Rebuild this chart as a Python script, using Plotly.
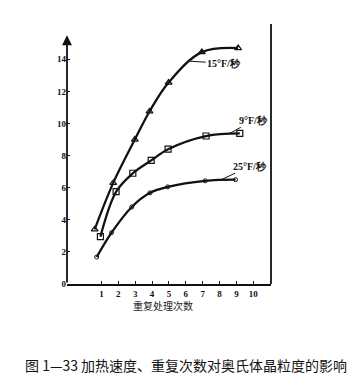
import plotly.graph_objects as go

# Data
x15 = [0.6, 1.7, 2.98, 3.85, 4.98, 6.95, 9.1]
y15 = [3.4, 6.3, 9.0, 10.75, 12.55, 14.45, 14.7]
x9 = [0.94, 1.87, 2.86, 3.95, 4.95, 7.2, 9.2]
y9 = [2.95, 5.75, 6.9, 7.7, 8.4, 9.22, 9.38]
x25 = [0.72, 1.6, 2.8, 3.88, 4.93, 7.15, 8.95]
y25 = [1.68, 3.2, 4.8, 5.68, 6.05, 6.43, 6.5]
series_names = ["15°F/秒", "9°F/秒", "25°F/秒"]
x_ticks = [1, 2, 3, 4, 5, 6, 7, 8, 9, 10]
y_ticks = [0, 2, 4, 6, 8, 10, 12, 14]
x_title = "重复处理次数"
caption = "图 1—33 加热速度、重复次数对奥氏体晶粒度的影响"

XR = [-1.04, 11.05]
YR = [0, 16.2]

tickfont = dict(family="Liberation Serif", size=9, color="#111", weight="bold")
labfont = dict(family="Liberation Serif", size=10, color="#111", weight="bold")
cjk = "Noto Sans CJK SC"

fig = go.Figure()
fig.add_trace(go.Scatter(x=x15, y=y15, mode="lines+markers", line_shape="spline",
                         line=dict(color="#111", width=2.3),
                         marker=dict(symbol="triangle-up-open", size=6, color="#111", line=dict(width=1.2))))
fig.add_trace(go.Scatter(x=x9, y=y9, mode="lines+markers", line_shape="spline",
                         line=dict(color="#111", width=2.3),
                         marker=dict(symbol="square-open", size=6, color="#111", line=dict(width=1.2))))
fig.add_trace(go.Scatter(x=x25, y=y25, mode="lines+markers", line_shape="spline",
                         line=dict(color="#111", width=2.3),
                         marker=dict(symbol="circle-open", size=4, color="#111", line=dict(width=1))))

annotations = [
    # y axis with arrow
    dict(x=XR[0], y=15.5, xref="x", yref="y", ax=XR[0], ay=0, axref="x", ayref="y",
         showarrow=True, arrowhead=2, arrowsize=1.1, arrowwidth=1.8, arrowcolor="#111", text=""),
    # curve labels
    dict(x=6.26, y=13.88, xref="x", yref="y", text=series_names[0], showarrow=True,
         arrowhead=0, arrowwidth=1, arrowcolor="#111", ax=34, ay=2, font=labfont),
    dict(x=8.52, y=9.33, xref="x", yref="y", text=series_names[1], showarrow=True,
         arrowhead=0, arrowwidth=1, arrowcolor="#111", ax=25, ay=-14, font=labfont),
    dict(x=8.04, y=6.47, xref="x", yref="y", text=series_names[2], showarrow=True,
         arrowhead=0, arrowwidth=1, arrowcolor="#111", ax=30, ay=-14, font=labfont),
    # axis title
    dict(x=0.47, y=-0.118, xref="paper", yref="paper", text=x_title, showarrow=False,
         font=dict(family=cjk, size=10, color="#222")),
    # caption
    dict(x=0.585, y=-0.358, xref="paper", yref="paper", text=caption, showarrow=False,
         font=dict(family=cjk, size=14, color="#111")),
]

shapes = [
    dict(type="line", xref="paper", yref="paper", x0=1, x1=1, y0=0, y1=1,
         line=dict(color="#111", width=1.8)),
]

fig.update_layout(
    width=362, height=387,
    margin=dict(l=59, r=99, t=16, b=111),
    paper_bgcolor="white", plot_bgcolor="white",
    showlegend=False,
    annotations=annotations, shapes=shapes,
    xaxis=dict(range=XR, tickmode="array", tickvals=x_ticks, ticktext=[str(v) for v in x_ticks],
               showgrid=False, zeroline=False, showline=True, linecolor="#111", linewidth=1.8,
               ticks="inside", ticklen=3, tickcolor="#111", tickfont=tickfont),
    yaxis=dict(range=YR, tickmode="array", tickvals=y_ticks, ticktext=[str(v) for v in y_ticks],
               showgrid=False, zeroline=False, showline=False,
               ticks="inside", ticklen=3, tickcolor="#111", tickfont=tickfont),
)

fig.write_html("out.html")
